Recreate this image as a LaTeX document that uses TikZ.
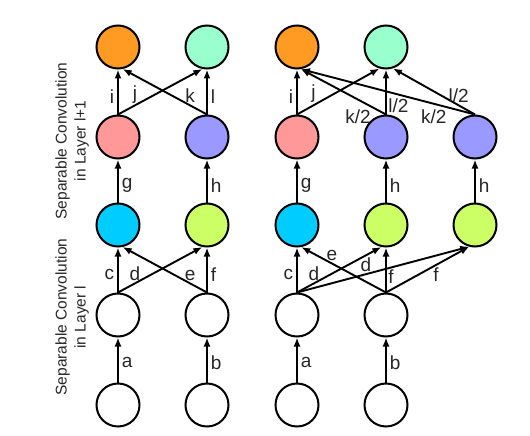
\documentclass[tikz,border=0pt]{standalone}
\usepackage{fontspec}
\setsansfont{Liberation Sans}
\usetikzlibrary{arrows.meta}
\definecolor{orng}{HTML}{FF9A22}
\definecolor{mint}{HTML}{99FFCC}
\definecolor{rosy}{HTML}{FF9999}
\definecolor{lilac}{HTML}{9999FF}
\definecolor{sky}{HTML}{00CCFF}
\definecolor{leaf}{HTML}{CCFF66}

\begin{document}
\begin{tikzpicture}[x=1pt,y=-1pt,font=\sffamily,text=black!85,
    >={Latex[length=9pt,width=7pt]},
    unit/.style={circle,draw,line width=2pt,minimum size=43pt,inner sep=0pt},
    conn/.style={->,line width=1.9pt},
    lbl/.style={font=\fontsize{19}{19}\selectfont\sffamily,inner sep=3pt}]
  \useasboundingbox (0,0) rectangle (530,436);

  \node[rotate=90,align=center,font=\fontsize{15.5}{19}\selectfont\sffamily]
    (cap1) at (72,141) {Separable Convolution\\in Layer l+1};
  \node[rotate=90,align=center,font=\fontsize{15.5}{19}\selectfont\sffamily]
    (cap0) at (72,317) {Separable Convolution\\in Layer l};

  % inputs and depthwise outputs (white)
  \foreach \x/\n in {118/1,207/2,297/3,386/4}{
    \node[unit] (in\n) at (\x,405) {};
    \node[unit] (dw\n) at (\x,315) {};
  }

  % left: plain network
  \node[unit,fill=sky]   (pw1) at (118,225) {};
  \node[unit,fill=leaf]  (pw2) at (207,225) {};
  \node[unit,fill=rosy]  (dd1) at (118,137) {};
  \node[unit,fill=lilac] (dd2) at (207,137) {};
  \node[unit,fill=orng]  (out1) at (118,47) {};
  \node[unit,fill=mint]  (out2) at (207,47) {};

  \draw[conn] (in1.north) -- node[lbl,right,pos=.45] {a} (dw1.south);
  \draw[conn] (in2.north) -- node[lbl,right,pos=.45] {b} (dw2.south);
  \draw[conn] (dw1.north) -- node[lbl,left,pos=.4] {c} (pw1.south);
  \draw[conn] (dw1.north) -- node[lbl,above,pos=.2,inner sep=1.5pt] {d} (pw2.-102);
  \draw[conn] (dw2.north) -- node[lbl,above,pos=.2,inner sep=1.5pt] {e} (pw1.-78);
  \draw[conn] (dw2.north) -- node[lbl,right,pos=.4] {f} (pw2.south);
  \draw[conn] (pw1.north) -- node[lbl,right,pos=.4] {g} (dd1.south);
  \draw[conn] (pw2.north) -- node[lbl,right,pos=.4] {h} (dd2.south);
  \draw[conn] (dd1.north) -- node[lbl,left,pos=.4] {i} (out1.south);
  \draw[conn] (dd1.north) -- node[lbl,above,pos=.2,inner sep=1.5pt] {j} (out2.-102);
  \draw[conn] (dd2.north) -- node[lbl,above,pos=.2,inner sep=1.5pt] {k} (out1.-78);
  \draw[conn] (dd2.north) -- node[lbl,right,pos=.4] {l} (out2.south);

  % right: widened network, split weights
  \node[unit,fill=sky]   (pw3) at (297,225) {};
  \node[unit,fill=leaf]  (pw4) at (386,225) {};
  \node[unit,fill=leaf]  (pw5) at (475,225) {};
  \node[unit,fill=rosy]  (dd3) at (297,137) {};
  \node[unit,fill=lilac] (dd4) at (386,137) {};
  \node[unit,fill=lilac] (dd5) at (475,137) {};
  \node[unit,fill=orng]  (out3) at (297,47) {};
  \node[unit,fill=mint]  (out4) at (386,47) {};

  \draw[conn] (in3.north) -- node[lbl,right,pos=.45] {a} (dw3.south);
  \draw[conn] (in4.north) -- node[lbl,right,pos=.45] {b} (dw4.south);
  \draw[conn] (dw3.north) -- node[lbl,left,pos=.4] {c} (pw3.south);
  \draw[conn] (dw3.north) -- node[lbl,above,pos=.2,inner sep=1.5pt] {d} (pw4.-102);
  \draw[conn] (dw3.north) -- node[lbl,above,pos=.4,inner sep=1.5pt] {d} (pw5.-105);
  \draw[conn] (dw4.north) -- node[lbl,above,pos=.64,inner sep=1.5pt] {e} (pw3.-79);
  \draw[conn] (dw4.north) -- node[lbl,right,pos=.35,inner sep=1.5pt] {f} (pw4.south);
  \draw[conn] (dw4.north) -- node[lbl,below,pos=.6,inner sep=1.5pt] {f} (pw5.-105);
  \draw[conn] (pw3.north) -- node[lbl,right,pos=.4] {g} (dd3.south);
  \draw[conn] (pw4.north) -- node[lbl,right,pos=.4] {h} (dd4.south);
  \draw[conn] (pw5.north) -- node[lbl,right,pos=.4] {h} (dd5.south);
  \draw[conn] (dd3.north) -- node[lbl,left,pos=.4] {i} (out3.south);
  \draw[conn] (dd3.north) -- node[lbl,above,pos=.2,inner sep=1.5pt] {j} (out4.-107);
  \draw[conn] (dd4.north) -- node[lbl,below left,pos=.15,inner sep=1.5pt] {k/2} (out3.-80);
  \draw[conn] (dd4.north) -- node[lbl,right,pos=.2,inner sep=1.5pt] {l/2} (out4.south);
  \draw[conn] (dd5.north) -- node[lbl,below left,pos=.15,inner sep=1.5pt] {k/2} (out3.-80);
  \draw[conn] (dd5.north) -- node[lbl,above,pos=.2,inner sep=1.5pt] {l/2} (out4.-72);
\end{tikzpicture}
\end{document}
